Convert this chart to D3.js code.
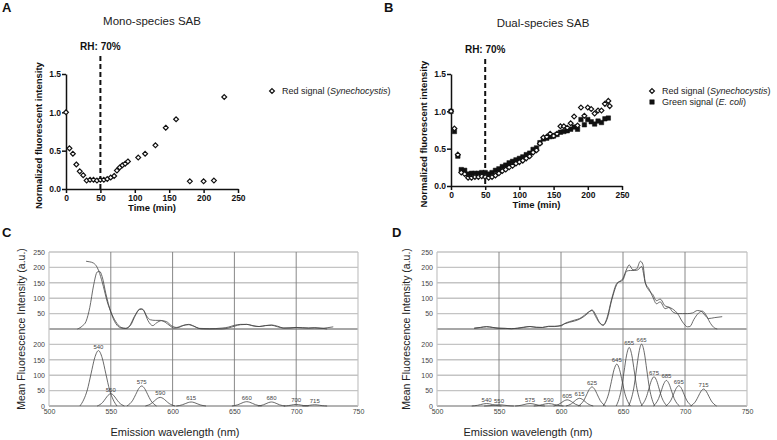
<!DOCTYPE html>
<html><head><meta charset="utf-8">
<script src="https://cdn.jsdelivr.net/npm/d3@7"></script>
<style>
body{margin:0;background:#fff}
svg{display:block}
text{font-family:"Liberation Sans",Arial,Helvetica,sans-serif}
</style>
</head><body>
<svg id="chart" width="777" height="440"></svg>
<script>
// ---------------- DATA ----------------
const timeTicks = [0, 50, 100, 150, 200, 250];
const normTicks = [0, 0.5, 1.0, 1.5];
const rhTime = 50;

// Panel A: mono-species, red signal
const monoTime = [0,5,10,15,20,25,30,35,40,45,50,55,60,65,70,74,78,82,86,90,105,115,130,145,160,180,200,215,230];
const monoRed  = [1.0,0.53,0.46,0.32,0.23,0.18,0.11,0.12,0.12,0.11,0.12,0.12,0.13,0.15,0.17,0.24,0.28,0.31,0.33,0.36,0.41,0.46,0.57,0.80,0.91,0.10,0.10,0.11,1.20];

// Panel B: dual-species
const dualTime  = [0,5,10,15,20,25,30,35,40,45,50,55,60,65,70,75,80,85,90,95,100,105,110,115,120,125,130,135,140,145,150,155,160,165,170,175,180,185,190,195,200,205,210,215,220,225,230];
const dualRed   = [1.0,0.77,0.42,0.18,0.16,0.11,0.11,0.12,0.12,0.13,0.12,0.11,0.12,0.14,0.17,0.20,0.22,0.25,0.27,0.30,0.32,0.34,0.37,0.40,0.45,0.48,0.57,0.65,0.66,0.70,0.67,0.70,0.80,0.80,0.78,0.84,0.93,0.81,1.05,0.94,1.05,1.03,0.97,1.01,1.01,1.10,1.14];
const dualGreen = [1.0,0.73,0.40,0.22,0.21,0.16,0.17,0.17,0.17,0.18,0.18,0.16,0.18,0.21,0.23,0.26,0.28,0.31,0.33,0.35,0.37,0.39,0.42,0.44,0.49,0.51,0.58,0.63,0.64,0.66,0.67,0.69,0.72,0.73,0.74,0.76,0.79,0.76,0.89,0.82,0.89,0.86,0.83,0.87,0.85,0.90,0.91];
const dualRedExtraTime = [232];
const dualRedExtra = [1.07];

// Panels C / D: spectra
const wlTicks = [500, 550, 600, 650, 700, 750];
const intTicksUpper = [50, 100, 150, 200, 250];
const intTicksLower = [0, 50, 100, 150, 200];

const specCmeasured = [[530,220],[533,218],[536,214],[539,200],[541,180],[544,138],[547,90],[551,47],[555,18],[559,4],[562,2],[565,9],[569,40],[573,63],[575,64],[577,57],[580,28],[584,11],[587,20],[591,27],[595,24],[599,11],[603,5],[608,11],[613,14],[617,9],[622,2],[630,1],[640,3],[645,6],[650,12],[655,15],[660,15],[665,10],[670,8],[675,11],[680,12],[685,7],[690,3],[695,4],[700,5],[705,4],[710,3],[715,4],[720,2],[725,4],[730,7]];
const specCfit = [[523,0],[527,10],[530,25],[533,70],[536,140],[539,185],[541,187],[543,170],[546,115],[550,55],[554,18],[558,4],[562,2],[566,12],[570,45],[574,66],[576,64],[579,42],[582,30],[586,28],[590,28],[594,22],[598,10],[601,3],[605,5],[609,12],[613,15],[617,10],[621,2],[625,0],[640,0],[645,3],[650,9],[655,14],[660,15],[665,11],[670,8],[675,11],[680,13],[685,9],[690,3],[695,3],[700,5],[705,4],[710,3],[715,4],[720,3],[725,0]];

const specDmeasured = [[530,3],[535,5],[540,8],[545,5],[550,2],[555,2],[560,1],[565,3],[570,6],[575,8],[580,5],[585,5],[590,9],[595,9],[600,10],[603,18],[607,24],[611,29],[615,34],[619,45],[622,55],[625,60],[628,40],[631,20],[634,12],[637,35],[641,100],[645,148],[650,160],[653,188],[656,190],[659,190],[662,192],[665,203],[668,150],[671,130],[674,104],[677,82],[680,88],[684,66],[687,70],[690,56],[694,50],[698,50],[702,50],[706,52],[710,60],[713,58],[716,45],[719,34],[724,37],[730,40]];
const specDfit = [[530,2],[535,5],[540,7],[545,5],[550,3],[555,2],[560,1],[565,2],[570,5],[575,8],[580,6],[585,5],[590,8],[595,8],[600,12],[603,17],[607,22],[611,26],[615,32],[619,42],[622,52],[625,62],[628,46],[631,22],[634,13],[637,30],[641,95],[645,145],[650,165],[653,195],[655,208],[658,192],[661,195],[664,220],[666,210],[668,150],[671,125],[674,112],[677,92],[680,97],[684,75],[687,71],[690,65],[694,50],[698,23],[702,7],[704,8],[707,30],[711,52],[714,58],[717,45],[720,22],[723,6],[726,0]];

// bell-shaped component profile read from the peaks (offset nm, fraction of height)
const peakOffsets = [-10,-8,-6,-4,-2,0,2,4,6,8,10];
const peakProfile = [0,0.11,0.29,0.58,0.87,1,0.87,0.58,0.29,0.11,0];

const peaksCcenter = [540,550,575,590,615,660,680,700,715];
const peaksCheight = [180,40,65,28,13,14,13,5,4];
const peaksCspread = [1.5,1.1,1.2,1.2,1.2,1.2,1.1,1.0,1.0];

const peaksDcenter = [540,550,575,590,605,615,625,645,655,665,675,685,695,715];
const peaksDheight = [8,4,8,8,20,25,62,136,190,201,95,83,66,55];
const peaksDspread = [1.2,1.2,1.2,1.2,1.1,1.1,1.1,1.1,1.05,1.05,1.05,1.05,1.05,1.05];

// ---------------- DRAW ----------------
const svg = d3.select("#chart");

function panelLetter(t, x, y){
  svg.append("text").attr("x",x).attr("y",y).attr("font-size",13).attr("font-weight","bold").attr("fill","#111").text(t);
}

function timePanel(opt){
  const x = d3.scaleLinear().domain([0,250]).range(opt.xr);
  const y = d3.scaleLinear().domain([0,1.5]).range(opt.yr);
  const g = svg.append("g");
  g.append("text").attr("x",opt.titleX).attr("y",opt.titleY).attr("text-anchor","middle")
    .attr("font-size",11.5).attr("fill","#222").text(opt.title);
  const ax = g.append("g").attr("transform",`translate(0,${y(0)})`)
    .call(d3.axisBottom(x).tickValues(timeTicks).tickSize(4).tickSizeOuter(0).tickPadding(2));
  const ay = g.append("g").attr("transform",`translate(${x(0)},0)`)
    .call(d3.axisLeft(y).tickValues(normTicks).tickFormat(d3.format(".1f")).tickSize(4).tickSizeOuter(0).tickPadding(1));
  [ax,ay].forEach(a=>{
    a.select(".domain").attr("stroke","#111").attr("stroke-width",1.5);
    a.selectAll(".tick line").attr("stroke","#111").attr("stroke-width",1.5);
    a.selectAll(".tick text").attr("font-size",8.5).attr("font-weight","bold").attr("fill","#111")
      .attr("font-family","'Liberation Sans',Arial,sans-serif");
  });
  g.append("text").attr("x",(opt.xr[0]+opt.xr[1])/2).attr("y",y(0)+22).attr("text-anchor","middle")
    .attr("font-size",9.5).attr("font-weight","bold").attr("fill","#111").text("Time (min)");
  g.append("text").attr("transform",`translate(${x(0)-24},${(opt.yr[0]+opt.yr[1])/2+4}) rotate(-90)`)
    .attr("text-anchor","middle").attr("font-size",9.5).attr("font-weight","bold").attr("fill","#111")
    .text("Normalized fluorescent intensity");
  g.append("line").attr("x1",x(rhTime)).attr("x2",x(rhTime)).attr("y1",opt.dashTop).attr("y2",y(0))
    .attr("stroke","#111").attr("stroke-width",2).attr("stroke-dasharray","5,3");
  g.append("text").attr("x",x(rhTime)).attr("y",opt.dashTop-6).attr("text-anchor","middle")
    .attr("font-size",10).attr("font-weight","bold").attr("fill","#111").text("RH: 70%");
  return {g,x,y};
}

const diamond = d3.symbol().type(d3.symbolDiamond2).size(15);
const square = d3.symbol().type(d3.symbolSquare).size(20);

function legendItem(g, x, y, sym, filled, label, species){
  g.append("path").attr("d",sym()).attr("transform",`translate(${x},${y})`)
    .attr("fill",filled?"#111":"#fff").attr("stroke","#111").attr("stroke-width",filled?0.5:1.2);
  const t = g.append("text").attr("x",x+10).attr("y",y+3.2).attr("font-size",9).attr("fill","#222");
  t.append("tspan").text(label+" (");
  t.append("tspan").attr("font-style","italic").text(species);
  t.append("tspan").text(")");
}

// Panel A
panelLetter("A",2,12);
const A = timePanel({xr:[66,238], yr:[189,74], title:"Mono-species SAB", titleX:152, titleY:25, dashTop:56});
A.g.append("g").selectAll("path").data(monoTime.map((t,i)=>[t,monoRed[i]])).join("path")
  .attr("d",diamond()).attr("transform",d=>`translate(${A.x(d[0])},${A.y(d[1])})`)
  .attr("fill","#fff").attr("stroke","#111").attr("stroke-width",1.2);
legendItem(A.g, 272, 91, diamond, false, "Red signal", "Synechocystis");

// Panel B
panelLetter("B",384,12);
const B = timePanel({xr:[451,622], yr:[186,74], title:"Dual-species SAB", titleX:543, titleY:27, dashTop:59});
B.g.append("g").selectAll("path").data(dualTime.map((t,i)=>[t,dualGreen[i]])).join("path")
  .attr("d",square()).attr("transform",d=>`translate(${B.x(d[0])},${B.y(d[1])})`)
  .attr("fill","#111").attr("stroke","#111").attr("stroke-width",0.5);
B.g.append("g").selectAll("path")
  .data(dualTime.map((t,i)=>[t,dualRed[i]]).concat(dualRedExtraTime.map((t,i)=>[t,dualRedExtra[i]])))
  .join("path")
  .attr("d",diamond()).attr("transform",d=>`translate(${B.x(d[0])},${B.y(d[1])})`)
  .attr("fill","#fff").attr("stroke","#111").attr("stroke-width",1.2);
legendItem(B.g, 652, 91, diamond, false, "Red signal", "Synechocystis");
legendItem(B.g, 652, 102, square, true, "Green signal", "E. coli");

// Spectrum panels
function specPanel(opt){
  const x = d3.scaleLinear().domain([500,750]).range(opt.xr);
  const yU = d3.scaleLinear().domain([0,250]).range([329,252]);
  const yL = d3.scaleLinear().domain([0,250]).range([406,329]);
  const g = svg.append("g");
  const hg = g.append("g");
  intTicksUpper.forEach(v=>hg.append("line").attr("x1",opt.xr[0]).attr("x2",opt.xr[1]).attr("y1",yU(v)).attr("y2",yU(v))
    .attr("stroke","#c4c4c4").attr("stroke-width",1.4));
  intTicksLower.forEach(v=>hg.append("line").attr("x1",opt.xr[0]).attr("x2",opt.xr[1]).attr("y1",yL(v)).attr("y2",yL(v))
    .attr("stroke",v===0?"#9a9a9a":"#c4c4c4").attr("stroke-width",1.4));
  hg.append("line").attr("x1",opt.xr[0]).attr("x2",opt.xr[1]).attr("y1",yU(0)).attr("y2",yU(0))
    .attr("stroke","#8a8a8a").attr("stroke-width",1.6);
  wlTicks.forEach(v=>g.append("line").attr("x1",x(v)).attr("x2",x(v)).attr("y1",yU(250)).attr("y2",yL(0))
    .attr("stroke",(v===500||v===750)?"#c4c4c4":"#7a7a7a").attr("stroke-width",(v===500||v===750)?1.2:0.9));
  const xa = g.append("g").attr("transform",`translate(0,${yL(0)})`)
    .call(d3.axisBottom(x).tickValues(wlTicks).tickSize(0).tickPadding(3));
  const yau = g.append("g").attr("transform",`translate(${opt.xr[0]},0)`)
    .call(d3.axisLeft(yU).tickValues(intTicksUpper).tickSize(0).tickPadding(4));
  const yal = g.append("g").attr("transform",`translate(${opt.xr[0]},0)`)
    .call(d3.axisLeft(yL).tickValues(intTicksLower).tickSize(0).tickPadding(4));
  [xa,yau,yal].forEach(a=>{
    a.select(".domain").remove();
    a.selectAll(".tick text").attr("font-size",7).attr("fill","#444")
      .attr("font-family","'Liberation Sans',Arial,sans-serif");
  });
  const lineU = d3.line().x(d=>x(d[0])).y(d=>yU(d[1])).curve(d3.curveMonotoneX);
  const lineL = d3.line().x(d=>x(d[0])).y(d=>yL(d[1])).curve(d3.curveMonotoneX);
  [opt.measured, opt.fit].forEach(s=>g.append("path").attr("d",lineU(s)).attr("fill","none")
    .attr("stroke","#444").attr("stroke-width",0.8));
  opt.centers.forEach((c,i)=>{
    const pts = peakOffsets.map((o,k)=>[c+o*opt.spreads[i], opt.heights[i]*peakProfile[k]]);
    g.append("path").attr("d",lineL(pts)).attr("fill","none").attr("stroke","#444").attr("stroke-width",0.8);
    g.append("text").attr("x",x(c)).attr("y",yL(opt.heights[i])-2).attr("text-anchor","middle")
      .attr("font-size",6).attr("fill","#444").text(c);
  });
  g.append("text").attr("x",opt.xlabX).attr("y",436).attr("text-anchor","middle")
    .attr("font-size",11).attr("fill","#222").text("Emission wavelength (nm)");
  g.append("text").attr("transform",`translate(${opt.ylabX},${329}) rotate(-90)`).attr("text-anchor","middle")
    .attr("font-size",10.5).attr("fill","#222").text("Mean Fluorescence Intensity (a.u.)");
}

panelLetter("C",2,237);
specPanel({xr:[49,358], measured:specCmeasured, fit:specCfit, centers:peaksCcenter, heights:peaksCheight,
  spreads:peaksCspread, xlabX:175, ylabX:25});
panelLetter("D",392,237);
specPanel({xr:[437,747], measured:specDmeasured, fit:specDfit, centers:peaksDcenter, heights:peaksDheight,
  spreads:peaksDspread, xlabX:528, ylabX:410});
</script>
</body></html>
